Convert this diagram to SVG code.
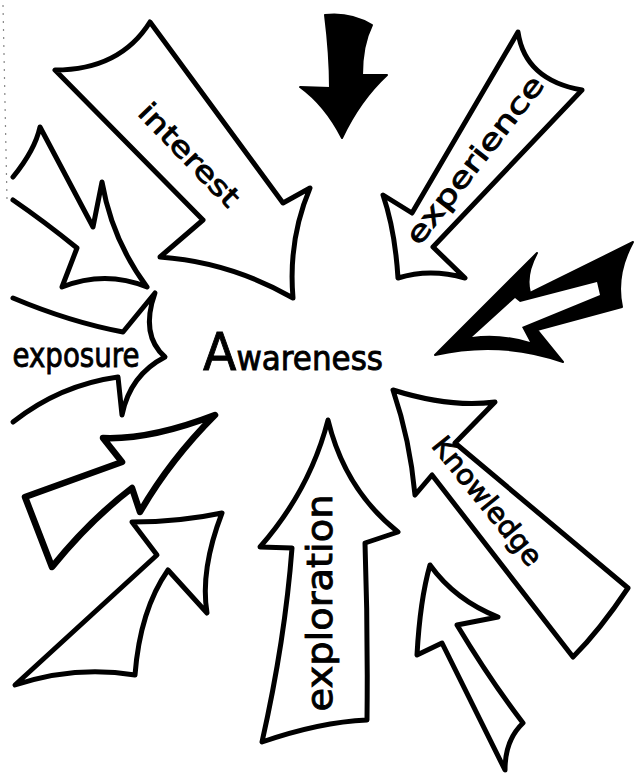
<svg xmlns="http://www.w3.org/2000/svg" width="639" height="773" viewBox="0 0 639 773">
<style>
.o{fill:#fff;stroke:#000;stroke-width:5;stroke-linejoin:round;stroke-linecap:round}
.t{fill:#fff;stroke:#000;stroke-width:6.5;stroke-linejoin:round;stroke-linecap:round}
.b{fill:#000;stroke:#000;stroke-width:2;stroke-linejoin:round}
.w{fill:#fff;stroke:none}
.lbl{font-family:"DejaVu Sans","Liberation Sans",sans-serif;fill:#000;stroke:#000;stroke-width:0.9;text-anchor:middle}
</style>
<rect width="639" height="773" fill="#fff"/>
<line x1="3" y1="5" x2="7" y2="200" stroke="#888" stroke-width="1.2" stroke-dasharray="2 6"/>

<g id="interest">
<path class="o" d="M55,70 Q120,70 150,22 L283,203 L310,188 Q288,240 293,298 Q230,262 160,257 L203,220 Z"/>
<text class="lbl" font-size="28" textLength="132" lengthAdjust="spacingAndGlyphs" transform="translate(188,156) rotate(46)" x="0" y="8">interest</text>
</g>

<g id="small-arrow-upper-left">
<path class="o" style="fill:none" d="M13,177 Q35,150 40,127 L93,227 L102,182 Q112,240 147,287 Q105,270 62,287 L77,248 Q45,222 13,200"/>
</g>

<g id="black-arrow">
<path class="b" d="M325,15 Q350,12 372,25 Q362,45 362,75 L387,75 Q360,100 342,138 Q325,105 300,87 L330,88 Q330,55 325,15 Z"/>
</g>

<g id="experience">
<path class="o" d="M518,32 Q525,80 582,90 L433,247 L465,278 Q430,268 398,278 Q395,230 383,195 L412,213 Z"/>
<text class="lbl" font-size="28" textLength="205" lengthAdjust="spacingAndGlyphs" transform="translate(476,161) rotate(-52)" x="0" y="8">experience</text>
</g>

<g id="hollow-arrow">
<path class="b" d="M435,355 L537,253 Q525,275 530,293 L633,242 Q615,275 622,307 L537,330 L563,362 Q500,340 435,355 Z"/>
<path class="w" d="M472,337 L515,298 L520,302 L597,282 L600,295 L522,327 L530,342 Q500,333 472,337 Z"/>
</g>

<g id="exposure">
<path class="o" style="fill:none" d="M13,298 Q70,322 123,332 L155,293 Q140,335 165,357 Q130,375 122,415 L118,377 Q60,385 13,422"/>
<text class="lbl" font-size="33" textLength="127" lengthAdjust="spacingAndGlyphs" x="76" y="367">exposure</text>
</g>

<g id="awareness">
<text class="lbl" font-size="33" textLength="180" lengthAdjust="spacingAndGlyphs" x="293" y="370"><tspan font-size="52">A</tspan>wareness</text>
<circle cx="395" cy="397" r="2" fill="#000"/>
</g>

<g id="lower-left-arrow-1">
<path class="t" d="M215,415 Q150,440 103,438 L122,462 L25,497 L52,567 Q90,520 132,488 L140,512 Q170,460 215,415 Z"/>
</g>

<g id="lower-left-arrow-2">
<path class="o" d="M222,513 Q180,522 132,522 L157,555 L15,685 Q75,665 135,675 Q140,610 168,570 L207,613 Q200,570 222,513 Z"/>
</g>

<g id="exploration">
<path class="o" d="M328,420 Q345,490 398,532 L365,543 Q368,630 367,720 Q320,722 262,742 Q285,640 292,548 L260,547 Q310,490 328,420 Z"/>
<text class="lbl" font-size="36" textLength="217" lengthAdjust="spacingAndGlyphs" transform="translate(332,603) rotate(-90)" x="0" y="0">exploration</text>
</g>

<g id="knowledge">
<path class="o" d="M393,390 Q450,408 495,402 L455,443 L628,588 Q600,630 573,657 L432,475 L415,495 Q410,440 393,390 Z"/>
<text class="lbl" font-size="28" textLength="157" lengthAdjust="spacingAndGlyphs" transform="translate(486,502) rotate(51)" x="0" y="8">Knowledge</text>
</g>

<g id="bottom-right-arrow">
<path class="o" d="M430,565 Q455,600 498,617 L457,625 Q490,680 523,723 Q505,740 505,770 Q470,700 442,643 L417,655 Q420,600 430,565 Z"/>
</g>
</svg>
